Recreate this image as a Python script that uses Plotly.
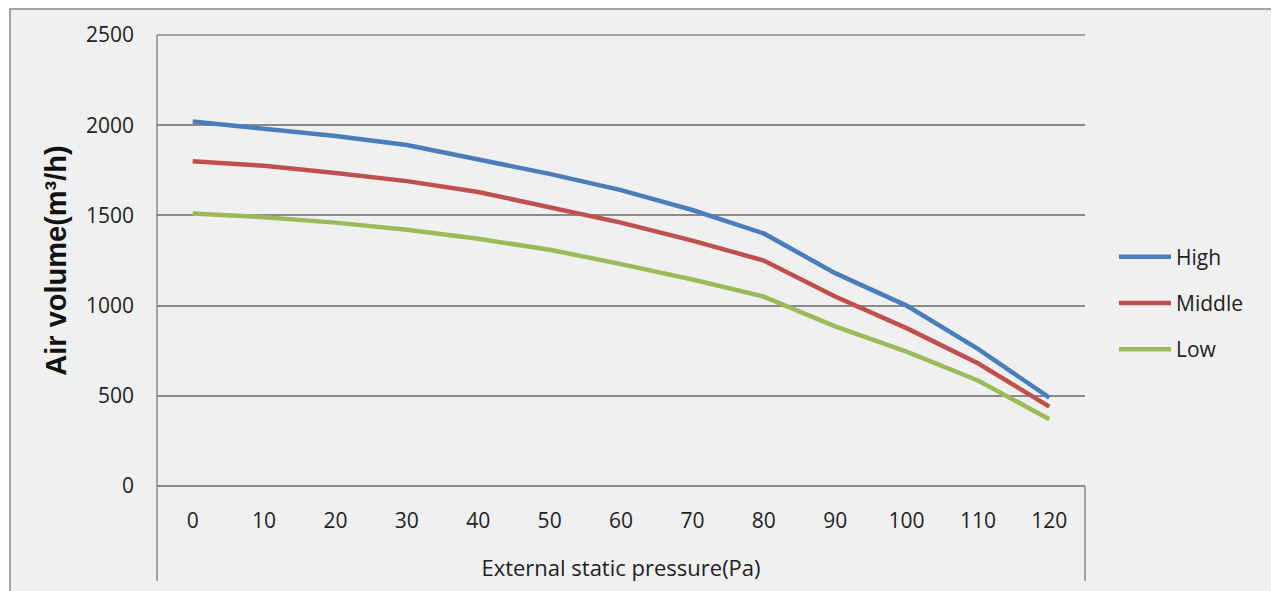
import plotly.graph_objs as go

pressure = ["0", "10", "20", "30", "40", "50", "60", "70", "80", "90", "100", "110", "120"]
high = [2020, 1980, 1940, 1890, 1810, 1730, 1640, 1530, 1400, 1180, 1000, 760, 490]
middle = [1800, 1775, 1735, 1690, 1630, 1545, 1460, 1360, 1250, 1050, 875, 680, 440]
low = [1510, 1490, 1460, 1420, 1370, 1310, 1230, 1145, 1050, 885, 745, 585, 370]

GRID = "#8a8a8a"
TXT = "#222222"

fig = go.Figure()
fig.add_trace(go.Scatter(x=pressure, y=high, name="High", mode="lines",
                         line=dict(color="#4a7ebb", width=4.5), legendgroup="a"))
fig.add_trace(go.Scatter(x=pressure, y=middle, name="Middle", mode="lines",
                         line=dict(color="#c0504d", width=4.5), legendgroup="b"))
fig.add_trace(go.Scatter(x=pressure, y=low, name="Low", mode="lines",
                         line=dict(color="#9bbb59", width=4.5), legendgroup="c"))

# chart frame, left axis, top gridline and the box under the category labels
fig.add_shape(type="rect", xref="paper", yref="paper", x0=-0.1584, x1=1.2047, y0=-0.3, y1=1.0576,
              fillcolor="#f0f0f0", line=dict(color=GRID, width=1.5), layer="below")
fig.add_shape(type="line", xref="paper", yref="paper", x0=0, x1=1, y0=1, y1=1,
              line=dict(color=GRID, width=1.5))
fig.add_shape(type="line", xref="paper", yref="paper", x0=0, x1=0, y0=-0.2106, y1=1,
              line=dict(color=GRID, width=1.5))
fig.add_shape(type="line", xref="paper", yref="paper", x0=1, x1=1, y0=-0.2106, y1=0,
              line=dict(color=GRID, width=1.5))

# the page body adds 8px, so margins are 8px smaller than the target positions
fig.update_layout(
    width=1279, height=591,
    margin=dict(l=149, r=202, t=27, b=113),
    paper_bgcolor="white", plot_bgcolor="rgba(0,0,0,0)",
    font=dict(family="Open Sans", size=21, color=TXT),
    showlegend=True,
    legend=dict(x=(1114 - 157) / 928, xanchor="left", y=(486 - 303) / 451, yanchor="middle",
                bgcolor="rgba(0,0,0,0)", font=dict(size=21, color=TXT),
                traceorder="grouped", tracegroupgap=16, itemwidth=52),
    xaxis=dict(type="category", range=[-0.5, 12.5], showgrid=False, zeroline=False,
               showline=False, ticks="", ticklabelstandoff=20,
               tickfont=dict(size=21, color=TXT),
               title=dict(text="External static pressure(Pa)", standoff=27,
                          font=dict(size=22, color=TXT))),
    yaxis=dict(range=[0, 2500], dtick=500, showgrid=True, gridcolor=GRID, gridwidth=1.5,
               zeroline=True, zerolinecolor=GRID, zerolinewidth=1.5, showline=False,
               ticks="", ticklabelstandoff=22, tickfont=dict(size=21, color=TXT),
               title=dict(text="Air volume(m³/h)", standoff=10,
                          font=dict(family="Liberation Sans", size=29, color="#111111",
                                    weight="bold"))),
)

fig.write_html("out.html")
